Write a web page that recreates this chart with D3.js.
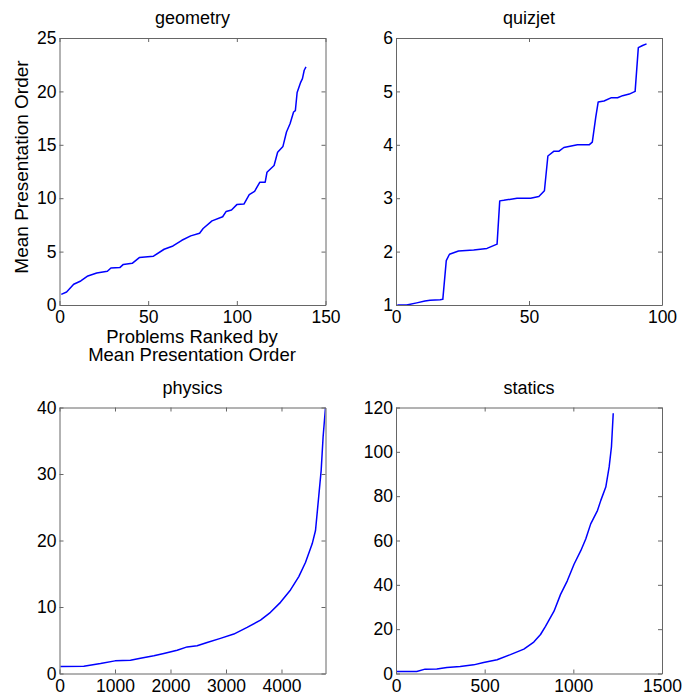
<!DOCTYPE html>
<html>
<head>
    <meta charset="utf-8">
    <title></title>
    <script src="https://cdn.jsdelivr.net/npm/d3@7"></script>
    <style>
        html, body { margin: 0; padding: 0; background: white; }
        text { font-family: "Liberation Sans", Arial, sans-serif; fill: black; }
    </style>
</head>
<body>
    <div id="chart"></div>
    <script>
        // Values
        const geometryX = [1, 4, 8, 12, 16, 21, 27, 29, 34, 36, 41, 45, 53, 59, 64, 69, 74, 79, 81, 86, 92, 94, 97, 100, 104, 107, 110, 113, 116, 117, 121, 123, 126, 128, 130, 132, 133, 134, 136, 137, 138, 139];
        const geometryY = [1.0, 1.22, 1.94, 2.25, 2.72, 3.0, 3.16, 3.47, 3.5, 3.8, 3.9, 4.44, 4.57, 5.22, 5.53, 6.06, 6.47, 6.72, 7.16, 7.88, 8.26, 8.76, 8.9, 9.4, 9.45, 10.33, 10.64, 11.5, 11.5, 12.43, 13.06, 14.3, 14.85, 16.2, 16.97, 18.07, 18.2, 19.9, 20.85, 21.2, 21.98, 22.3];

        const quizjetX = [0.5, 4, 7.8, 10.9, 12.8, 16.6, 17.6, 18.9, 20.1, 23.5, 29.2, 34.2, 38, 39, 40.5, 45.5, 50.6, 53.7, 55.8, 57.1, 59.4, 61.3, 63.1, 68.2, 72.6, 73.8, 75.1, 76, 78.2, 80.8, 83.3, 85.2, 87.7, 89.9, 91.1, 92.7, 94.2];
        const quizjetY = [1.0, 1.0, 1.04, 1.075, 1.09, 1.1, 1.106, 1.83, 1.95, 2.01, 2.03, 2.06, 2.14, 2.95, 2.96, 3.0, 3.0, 3.03, 3.14, 3.79, 3.88, 3.88, 3.95, 4.0, 4.0, 4.05, 4.52, 4.8, 4.82, 4.88, 4.88, 4.92, 4.95, 5.0, 5.82, 5.86, 5.89];

        const physicsX = [18, 438, 739, 1000, 1279, 1459, 1700, 1880, 2120, 2300, 2480, 2660, 2900, 3141, 3381, 3622, 3802, 3982, 4162, 4312, 4432, 4553, 4613, 4673, 4715, 4750, 4793];
        const physicsY = [1.06, 1.1, 1.5, 1.9, 2.0, 2.3, 2.66, 3.0, 3.5, 4.0, 4.17, 4.67, 5.28, 5.93, 6.93, 8.04, 9.2, 10.7, 12.56, 14.57, 16.7, 19.5, 21.5, 26.8, 30.55, 35.6, 40];

        const staticsX = [4, 117, 164, 230, 287, 362, 438, 494, 570, 645, 721, 777, 815, 843, 891, 928, 966, 1004, 1042, 1070, 1098, 1136, 1155, 1183, 1202, 1215, 1225];
        const staticsY = [0.9, 0.9, 1.97, 2.0, 2.7, 3.2, 3.9, 5.0, 6.2, 8.5, 11.0, 14.2, 17.6, 21.3, 28.1, 35.7, 41.8, 49.3, 55.4, 60.7, 67.5, 73.5, 78.1, 84.1, 93.2, 102.3, 117.4];

        // Tick values
        const geometryXTicks = [0, 50, 100, 150];
        const geometryYTicks = [0, 5, 10, 15, 20, 25];
        const quizjetXTicks = [0, 50, 100];
        const quizjetYTicks = [1, 2, 3, 4, 5, 6];
        const physicsXTicks = [0, 1000, 2000, 3000, 4000];
        const physicsYTicks = [0, 10, 20, 30, 40];
        const staticsXTicks = [0, 500, 1000, 1500];
        const staticsYTicks = [0, 20, 40, 60, 80, 100, 120];

        const panels = [
            { title: "geometry", xs: geometryX, ys: geometryY, xDomain: [0, 150], yDomain: [0, 25], xTicks: geometryXTicks, yTicks: geometryYTicks, left: 59.5, top: 38, h: 267 },
            { title: "quizjet", xs: quizjetX, ys: quizjetY, xDomain: [0, 100], yDomain: [1, 6], xTicks: quizjetXTicks, yTicks: quizjetYTicks, left: 396, top: 38, h: 267 },
            { title: "physics", xs: physicsX, ys: physicsY, xDomain: [0, 4793], yDomain: [0, 40], xTicks: physicsXTicks, yTicks: physicsYTicks, left: 59.5, top: 407.5, h: 266 },
            { title: "statics", xs: staticsX, ys: staticsY, xDomain: [0, 1500], yDomain: [0, 120], xTicks: staticsXTicks, yTicks: staticsYTicks, left: 396, top: 407.5, h: 266 }
        ];

        const W = 685, H = 697;
        const pw = 266;
        const tick = 4;
        const frameColor = "#666";

        const svg = d3.select("#chart").append("svg")
            .attr("width", W)
            .attr("height", H);

        svg.append("rect").attr("width", W).attr("height", H).attr("fill", "white");

        panels.forEach((p, i) => {
            const ph = p.h;
            const g = svg.append("g").attr("transform", `translate(${p.left},${p.top})`);

            const x = d3.scaleLinear().domain(p.xDomain).range([0, pw]);
            const y = d3.scaleLinear().domain(p.yDomain).range([ph, 0]);

            // clip
            g.append("clipPath").attr("id", `clip${i}`)
                .append("rect").attr("width", pw).attr("height", ph);

            // data line
            const pts = p.xs.map((v, k) => [v, p.ys[k]]);
            g.append("path")
                .datum(pts)
                .attr("clip-path", `url(#clip${i})`)
                .attr("fill", "none")
                .attr("stroke", "#0000ff")
                .attr("stroke-width", 1.5)
                .attr("stroke-linejoin", "round")
                .attr("d", d3.line().x(d => x(d[0])).y(d => y(d[1])));

            // axes with inward ticks
            const bottom = g.append("g").attr("transform", `translate(0,${ph})`)
                .call(d3.axisBottom(x).tickValues(p.xTicks).tickSizeInner(-tick).tickSizeOuter(0).tickPadding(6).tickFormat(d3.format("d")));
            const left = g.append("g")
                .call(d3.axisLeft(y).tickValues(p.yTicks).tickSizeInner(-tick).tickSizeOuter(0).tickPadding(3).tickFormat(d3.format("d")));
            const top = g.append("g")
                .call(d3.axisTop(x).tickValues(p.xTicks).tickSizeInner(-tick).tickSizeOuter(0).tickFormat(""));
            const right = g.append("g").attr("transform", `translate(${pw},0)`)
                .call(d3.axisRight(y).tickValues(p.yTicks).tickSizeInner(-tick).tickSizeOuter(0).tickFormat(""));

            [bottom, left, top, right].forEach(a => {
                a.selectAll("path").attr("stroke", frameColor);
                a.selectAll("line").attr("stroke", frameColor);
            });
            [bottom, left].forEach(a => {
                a.selectAll("text")
                    .style("font-size", "17.5px")
                    .style("font-family", "'Liberation Sans', Arial, sans-serif")
                    .attr("fill", "black");
            });
            bottom.selectAll("text").attr("dy", "0.71em").attr("y", 6);

            // title
            g.append("text")
                .attr("x", pw / 2)
                .attr("y", -14)
                .attr("text-anchor", "middle")
                .style("font-size", "18px")
                .text(p.title);
        });

        // axis labels for the first panel
        svg.append("text")
            .attr("transform", "translate(28,167) rotate(-90)")
            .attr("text-anchor", "middle")
            .style("font-size", "19px")
            .text("Mean Presentation Order");

        svg.append("text")
            .attr("x", 192)
            .attr("y", 343)
            .attr("text-anchor", "middle")
            .style("font-size", "18.5px")
            .text("Problems Ranked by");

        svg.append("text")
            .attr("x", 192)
            .attr("y", 361)
            .attr("text-anchor", "middle")
            .style("font-size", "18.5px")
            .text("Mean Presentation Order");
    </script>
</body>
</html>
